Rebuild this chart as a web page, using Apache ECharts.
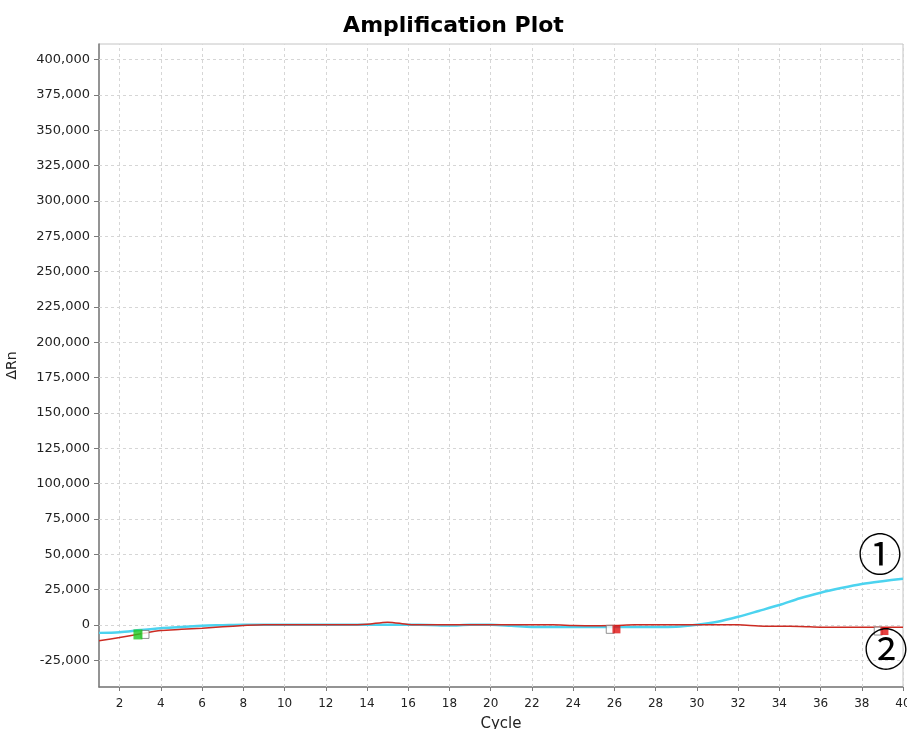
<!DOCTYPE html>
<html>
<head>
<meta charset="utf-8">
<script src="https://cdn.jsdelivr.net/npm/echarts@6/dist/echarts.min.js"></script>
<style>
  html, body { margin: 0; padding: 0; background: #fff; }
  #amp { width: 907px; height: 729px; }
</style>
</head>
<body>
<div id="amp"></div>
<script>
const cycles = [1, 2, 3, 4, 5, 6, 7, 8, 9, 10, 11, 12, 13, 14, 15, 16, 17, 18, 19, 20,
  21, 22, 23, 24, 25, 26, 27, 28, 29, 30, 31, 32, 33, 34, 35, 36, 37, 38, 39, 40];

// curve ① (cyan)
const well1 = [-5700, -5200, -3700, -2400, -1600, -600, -300, 0, 0, 0,
  0, 0, 0, 0, 0, 0, -100, -500, 0, 0,
  -700, -1500, -1600, -1600, -1600, -1600, -1600, -1600, -1400, 0,
  2200, 5700, 9800, 14000, 18800, 22700, 26000, 28900, 30900, 32600];

// curve ② (red)
const well2 = [-11300, -9000, -6400, -4000, -3200, -2400, -1400, -500, 100, 0,
  0, 0, 0, 400, 1900, 300, 0, 0, 0, 0,
  0, 0, 0, -400, -600, -500, 0, 0, 0, 0,
  0, 0, -800, -1000, -1200, -1700, -1800, -1800, -1800, -1800];

// baseline start / end markers
const greenMarks = [[2.89, -6800]];
const redMarks = [[26.1, -3200], [39.1, -4400]];
const whiteMarks = [[3.23, -6800], [25.8, -3200], [38.8, -4400]];

const xTicks = [2, 4, 6, 8, 10, 12, 14, 16, 18, 20, 22, 24, 26, 28, 30, 32, 34, 36, 38, 40];
const yTicks = [-25000, 0, 25000, 50000, 75000, 100000, 125000, 150000, 175000, 200000,
  225000, 250000, 275000, 300000, 325000, 350000, 375000, 400000];

function pairs(vals) {
  return cycles.map((c, i) => [c, vals[i]]);
}

const gridDash = { color: '#d6d6d6', type: [3, 3], width: 1 };

const chart = echarts.init(document.getElementById('amp'));

const option = {
  backgroundColor: '#fff',
  animation: false,
  title: {
    text: 'Amplification Plot',
    left: 'center',
    top: 10,
    textStyle: {
      fontFamily: 'DejaVu Sans',
      fontWeight: 'bold',
      fontSize: 22,
      color: '#000'
    }
  },
  grid: {
    left: 99,
    right: 4,
    top: 44,
    bottom: 42,
    outerBoundsMode: 'none',
    containLabel: false,
    show: true,
    borderColor: '#c4c4c4',
    borderWidth: 1
  },
  xAxis: {
    type: 'value',
    min: 1,
    max: 40,
    name: 'Cycle',
    nameLocation: 'middle',
    nameGap: 30,
    nameTextStyle: { fontFamily: 'DejaVu Sans', fontSize: 15, color: '#222' },
    axisLine: { onZero: false, lineStyle: { color: '#7a7a7a', width: 1.5 } },
    axisTick: { customValues: xTicks, length: 4, lineStyle: { color: '#7a7a7a' } },
    axisLabel: {
      customValues: xTicks,
      fontFamily: 'DejaVu Sans',
      fontSize: 12,
      color: '#222',
      margin: 11
    },
    splitLine: { show: false }
  },
  yAxis: {
    type: 'value',
    min: -44000,
    max: 411000,
    name: 'ΔRn',
    nameLocation: 'middle',
    nameGap: 80,
    nameRotate: 90,
    nameTextStyle: { fontFamily: 'DejaVu Sans', fontSize: 14, color: '#222' },
    axisLine: { show: true, onZero: false, lineStyle: { color: '#7a7a7a', width: 1.5 } },
    axisTick: { show: true, customValues: yTicks, length: 5, lineStyle: { color: '#7a7a7a' } },
    axisLabel: {
      customValues: yTicks,
      fontFamily: 'DejaVu Sans',
      fontSize: 13,
      color: '#222',
      margin: 9,
      formatter: (v) => v.toLocaleString('en-US')
    },
    splitLine: { show: false }
  },
  series: [
    {
      name: 'well1',
      type: 'line',
      data: pairs(well1),
      smooth: 0.3,
      showSymbol: false,
      lineStyle: { color: '#4cd3ef', width: 2.5 },
      z: 3,
      // dashed grid at the labelled ticks
      markLine: {
        silent: true,
        symbol: 'none',
        label: { show: false },
        lineStyle: gridDash,
        z: 1,
        data: xTicks.map((v) => ({ xAxis: v })).concat(yTicks.map((v) => ({ yAxis: v })))
      }
    },
    {
      name: 'well2',
      type: 'line',
      data: pairs(well2),
      smooth: 0.3,
      showSymbol: false,
      lineStyle: { color: '#cc2b22', width: 1.5 },
      z: 4
    },
    {
      type: 'scatter',
      data: whiteMarks,
      symbol: 'rect',
      symbolSize: 8,
      itemStyle: { color: '#fff', borderColor: '#777', borderWidth: 1 },
      z: 5
    },
    {
      type: 'scatter',
      data: greenMarks,
      symbol: 'rect',
      symbolSize: [9, 10],
      itemStyle: { color: '#1ec81e' },
      z: 6
    },
    {
      type: 'scatter',
      data: redMarks,
      symbol: 'rect',
      symbolSize: 8,
      itemStyle: { color: '#e01010' },
      z: 6
    }
  ],
  graphic: [
    {
      type: 'text',
      x: 880,
      y: 554,
      z: 100,
      style: {
        text: '①',
        font: '44px "Noto Sans CJK SC"',
        fill: '#000',
        textAlign: 'center',
        textVerticalAlign: 'middle'
      }
    },
    {
      type: 'text',
      x: 886,
      y: 649,
      z: 100,
      style: {
        text: '②',
        font: '44px "Noto Sans CJK SC"',
        fill: '#000',
        textAlign: 'center',
        textVerticalAlign: 'middle'
      }
    }
  ]
};

chart.setOption(option);
</script>
</body>
</html>
